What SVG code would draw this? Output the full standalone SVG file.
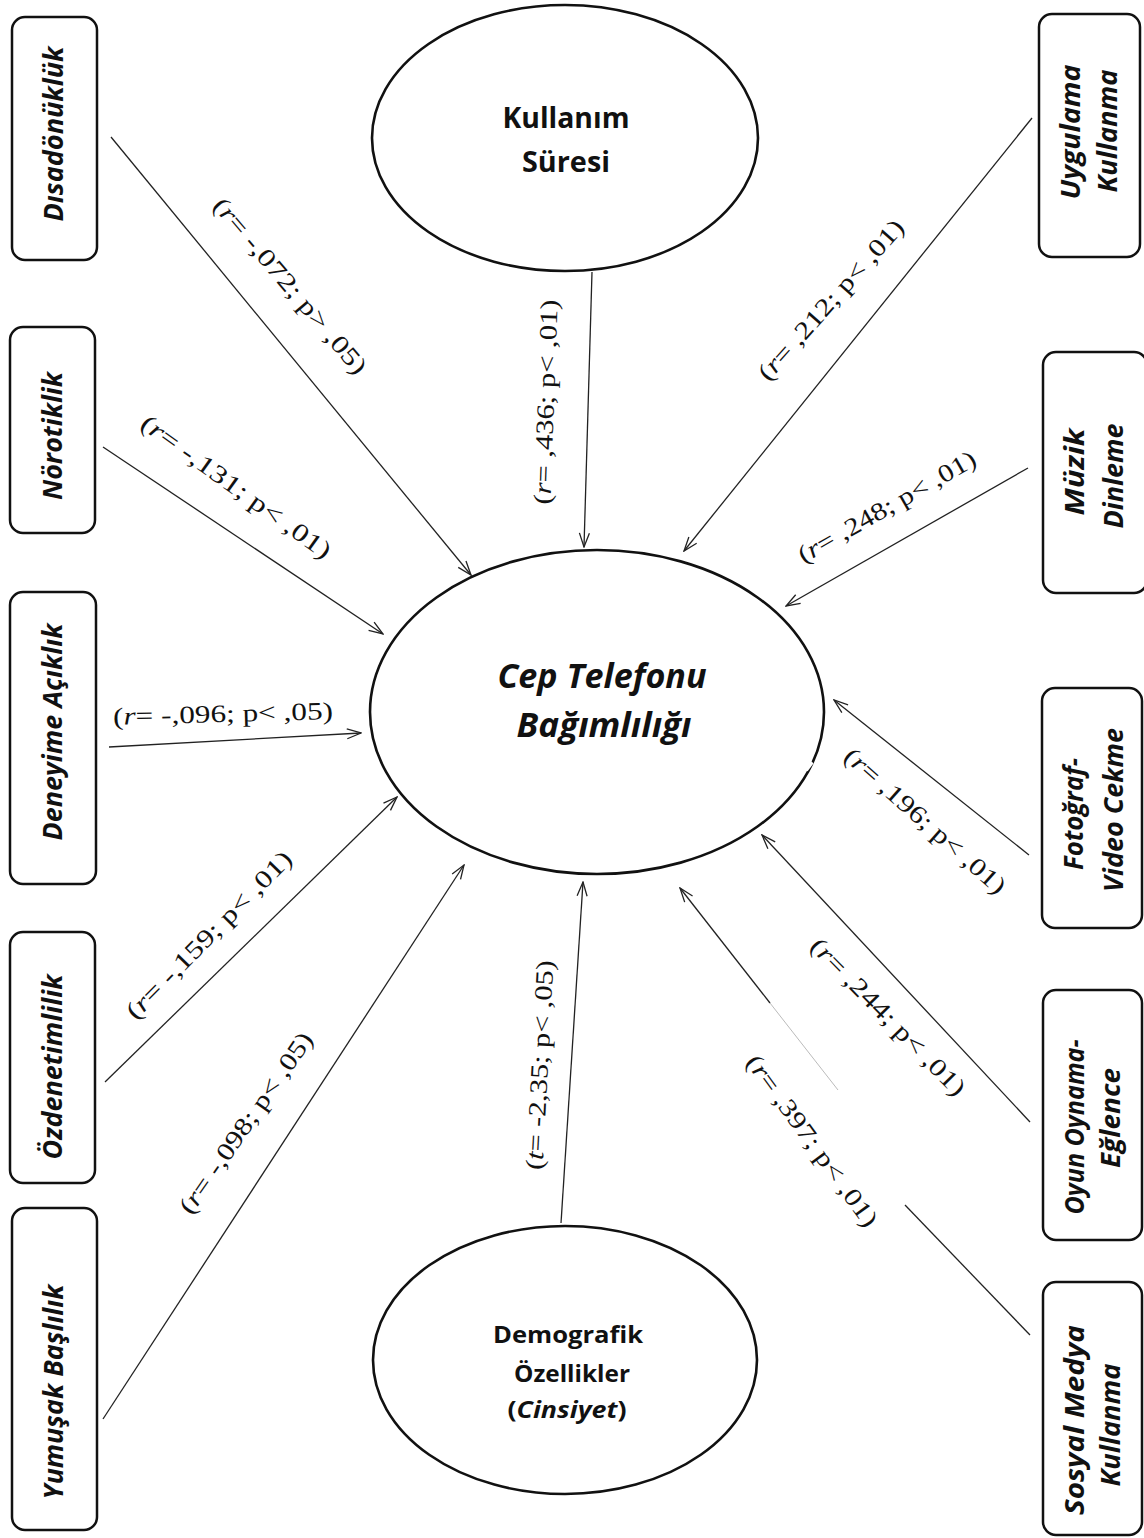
<svg xmlns="http://www.w3.org/2000/svg" width="1144" height="1538" viewBox="0 0 1144 1538">
<style>
.box{fill:#fff;stroke:#111;stroke-width:2.5}
.ell{fill:#fff;stroke:#111;stroke-width:2.6}
.nl{font-family:"Open Sans","Liberation Sans",sans-serif;font-weight:bold;font-style:italic;font-size:26px;fill:#111}
.el{font-family:"Open Sans","Liberation Sans",sans-serif;font-weight:bold;fill:#111}
.lab{font-family:"Liberation Serif","Times New Roman",serif;font-size:25px;fill:#111}
.con{stroke:#222;stroke-width:1.3;fill:none}
</style>
<defs>
<marker id="arr" viewBox="0 0 16 12" refX="15" refY="6" markerWidth="16" markerHeight="12" markerUnits="userSpaceOnUse" orient="auto">
<path d="M1,1 L15,6 L1,11" fill="none" stroke="#222" stroke-width="1.3"/>
</marker>
</defs>
<rect width="1144" height="1538" fill="#fff"/>

<g id="connectors">
<line class="con" x1="111" y1="137" x2="471" y2="575" marker-end="url(#arr)"/>
<line class="con" x1="103" y1="447" x2="383" y2="634" marker-end="url(#arr)"/>
<line class="con" x1="109" y1="747" x2="361" y2="733" marker-end="url(#arr)"/>
<line class="con" x1="105" y1="1082" x2="397" y2="797" marker-end="url(#arr)"/>
<line class="con" x1="103" y1="1419" x2="464" y2="865" marker-end="url(#arr)"/>
<line class="con" x1="592" y1="272" x2="584" y2="547" marker-end="url(#arr)"/>
<line class="con" x1="561" y1="1223" x2="583" y2="882" marker-end="url(#arr)"/>
<line class="con" x1="1032" y1="118" x2="684" y2="551" marker-end="url(#arr)"/>
<line class="con" x1="1028" y1="468" x2="786" y2="606" marker-end="url(#arr)"/>
<line class="con" x1="1029" y1="855" x2="834" y2="700" marker-end="url(#arr)"/>
<line class="con" x1="1030" y1="1122" x2="762" y2="835" marker-end="url(#arr)"/>
<line class="con" x1="770" y1="1003" x2="680" y2="888" marker-end="url(#arr)"/>
<line x1="770" y1="1003" x2="838" y2="1090" stroke="#bbb" stroke-width="1"/>
<line class="con" x1="905" y1="1205" x2="1030" y2="1335"/>
</g>

<g id="lbl-disadonukluk" transform="translate(290,286) rotate(49.7)"><text class="lab" y="8" text-anchor="middle" textLength="223" lengthAdjust="spacingAndGlyphs">(<tspan font-style="italic">r</tspan>= -,072; p&gt; ,05)</text></g>
<g id="lbl-norotiklik" transform="translate(236,487) rotate(35.7)"><text class="lab" y="8" text-anchor="middle" textLength="228" lengthAdjust="spacingAndGlyphs">(<tspan font-style="italic">r</tspan>= -,131; p&lt; ,01)</text></g>
<g id="lbl-deneyime" transform="translate(223,714) rotate(-1.5)"><text class="lab" y="8" text-anchor="middle" textLength="220" lengthAdjust="spacingAndGlyphs">(<tspan font-style="italic">r</tspan>= -,096; p&lt; ,05)</text></g>
<g id="lbl-ozdenetim" transform="translate(209,935) rotate(-45.4)"><text class="lab" y="8" text-anchor="middle" textLength="225" lengthAdjust="spacingAndGlyphs">(<tspan font-style="italic">r</tspan>= -,159; p&lt; ,01)</text></g>
<g id="lbl-yumusak" transform="translate(246,1123) rotate(-55.2)"><text class="lab" y="8" text-anchor="middle" textLength="215" lengthAdjust="spacingAndGlyphs">(<tspan font-style="italic">r</tspan>= -,098; p&lt; ,05)</text></g>
<g id="lbl-kullanim" transform="translate(546,402) rotate(-88)"><text class="lab" y="8" text-anchor="middle" textLength="205" lengthAdjust="spacingAndGlyphs">(<tspan font-style="italic">r</tspan>= ,436; p&lt; ,01)</text></g>
<g id="lbl-demografik" transform="translate(540,1065) rotate(-87)"><text class="lab" y="8" text-anchor="middle" textLength="210" lengthAdjust="spacingAndGlyphs">(<tspan font-style="italic">t</tspan>= -2,35; p&lt; ,05)</text></g>
<g id="lbl-uygulama" transform="translate(831,300) rotate(-48.3)"><text class="lab" y="8" text-anchor="middle" textLength="206" lengthAdjust="spacingAndGlyphs">(<tspan font-style="italic">r</tspan>= ,212; p&lt; ,01)</text></g>
<g id="lbl-muzik" transform="translate(887,507) rotate(-29.7)"><text class="lab" y="8" text-anchor="middle" textLength="201" lengthAdjust="spacingAndGlyphs">(<tspan font-style="italic">r</tspan>= ,248; p&lt; ,01)</text></g>
<g id="lbl-fotograf" transform="translate(925,821) rotate(41.5)"><text class="lab" y="8" text-anchor="middle" textLength="207" lengthAdjust="spacingAndGlyphs">(<tspan font-style="italic">r</tspan>= ,196; p&lt; ,01)</text></g>
<g id="lbl-oyun" transform="translate(888,1017) rotate(45.6)"><text class="lab" y="8" text-anchor="middle" textLength="210" lengthAdjust="spacingAndGlyphs">(<tspan font-style="italic">r</tspan>= ,244; p&lt; ,01)</text></g>
<g id="lbl-sosyal" transform="translate(812,1141) rotate(54)"><text class="lab" y="8" text-anchor="middle" textLength="206" lengthAdjust="spacingAndGlyphs">(<tspan font-style="italic">r</tspan>= ,397; p&lt; ,01)</text></g>

<g id="node-disadonukluk">
<rect class="box" x="12" y="17" width="85" height="243" rx="13"/>
<text class="nl" transform="translate(63,134) rotate(-90)" text-anchor="middle" textLength="175" lengthAdjust="spacingAndGlyphs">Dısadönüklük</text>
</g>
<g id="node-norotiklik">
<rect class="box" x="10" y="327" width="85" height="206" rx="13"/>
<text class="nl" transform="translate(62,436) rotate(-90)" text-anchor="middle" textLength="128" lengthAdjust="spacingAndGlyphs">Nörotiklik</text>
</g>
<g id="node-deneyime">
<rect class="box" x="10" y="592" width="86" height="292" rx="13"/>
<text class="nl" transform="translate(62,732) rotate(-90)" text-anchor="middle" textLength="217" lengthAdjust="spacingAndGlyphs">Deneyime Açıklık</text>
</g>
<g id="node-ozdenetimlilik">
<rect class="box" x="10" y="932" width="85" height="251" rx="13"/>
<text class="nl" transform="translate(62,1067) rotate(-90)" text-anchor="middle" textLength="185" lengthAdjust="spacingAndGlyphs">Özdenetimlilik</text>
</g>
<g id="node-yumusak">
<rect class="box" x="12" y="1208" width="85" height="322" rx="13"/>
<text class="nl" transform="translate(63,1392) rotate(-90)" text-anchor="middle" textLength="215" lengthAdjust="spacingAndGlyphs">Yumuşak Başlılık</text>
</g>

<g id="node-uygulama">
<rect class="box" x="1039" y="14" width="101" height="243" rx="13"/>
<text class="nl" transform="translate(1080,132) rotate(-90)" text-anchor="middle" textLength="135" lengthAdjust="spacingAndGlyphs">Uygulama</text>
<text class="nl" transform="translate(1117,131) rotate(-90)" text-anchor="middle" textLength="123" lengthAdjust="spacingAndGlyphs">Kullanma</text>
</g>
<g id="node-muzik">
<rect class="box" x="1043" y="352" width="104" height="241" rx="13"/>
<text class="nl" transform="translate(1084,472) rotate(-90)" text-anchor="middle" textLength="87" lengthAdjust="spacingAndGlyphs">Müzik</text>
<text class="nl" transform="translate(1123,476) rotate(-90)" text-anchor="middle" textLength="105" lengthAdjust="spacingAndGlyphs">Dinleme</text>
</g>
<g id="node-fotograf">
<rect class="box" x="1042" y="688" width="100" height="240" rx="13"/>
<text class="nl" transform="translate(1083,814) rotate(-90)" text-anchor="middle" textLength="112" lengthAdjust="spacingAndGlyphs">Fotoğraf-</text>
<text class="nl" transform="translate(1123,810) rotate(-90)" text-anchor="middle" textLength="164" lengthAdjust="spacingAndGlyphs">Video Cekme</text>
</g>
<g id="node-oyun">
<rect class="box" x="1043" y="990" width="99" height="250" rx="13"/>
<text class="nl" transform="translate(1084,1127) rotate(-90)" text-anchor="middle" textLength="175" lengthAdjust="spacingAndGlyphs">Oyun Oynama-</text>
<text class="nl" transform="translate(1120,1118) rotate(-90)" text-anchor="middle" textLength="100" lengthAdjust="spacingAndGlyphs">Eğlence</text>
</g>
<g id="node-sosyal">
<rect class="box" x="1043" y="1282" width="99" height="253" rx="13"/>
<text class="nl" transform="translate(1084,1420) rotate(-90)" text-anchor="middle" textLength="190" lengthAdjust="spacingAndGlyphs">Sosyal Medya</text>
<text class="nl" transform="translate(1120,1425) rotate(-90)" text-anchor="middle" textLength="123" lengthAdjust="spacingAndGlyphs">Kullanma</text>
</g>

<g id="node-kullanim">
<ellipse class="ell" cx="565" cy="138" rx="193" ry="133"/>
<text class="el" x="566" y="128" font-size="28" text-anchor="middle" textLength="127" lengthAdjust="spacingAndGlyphs">Kullanım</text>
<text class="el" x="566" y="172" font-size="28" text-anchor="middle" textLength="88" lengthAdjust="spacingAndGlyphs">Süresi</text>
</g>
<g id="node-cep">
<ellipse class="ell" cx="597" cy="712" rx="227" ry="162"/>
<line x1="806" y1="770" x2="812" y2="762" stroke="#fff" stroke-width="4"/>
<text class="el" x="602" y="688" font-size="34" font-style="italic" text-anchor="middle" textLength="209" lengthAdjust="spacingAndGlyphs">Cep Telefonu</text>
<text class="el" x="604" y="737" font-size="34" font-style="italic" text-anchor="middle" textLength="175" lengthAdjust="spacingAndGlyphs">Bağımlılığı</text>
</g>
<g id="node-demografik">
<ellipse class="ell" cx="565" cy="1360" rx="192" ry="134"/>
<text class="el" x="568" y="1343" font-size="24" text-anchor="middle" textLength="150" lengthAdjust="spacingAndGlyphs">Demografik</text>
<text class="el" x="572" y="1382" font-size="24" text-anchor="middle" textLength="116" lengthAdjust="spacingAndGlyphs">Özellikler</text>
<text class="el" x="567" y="1418" font-size="24" text-anchor="middle" textLength="119" lengthAdjust="spacingAndGlyphs">(<tspan font-style="italic">Cinsiyet</tspan>)</text>
</g>
</svg>
